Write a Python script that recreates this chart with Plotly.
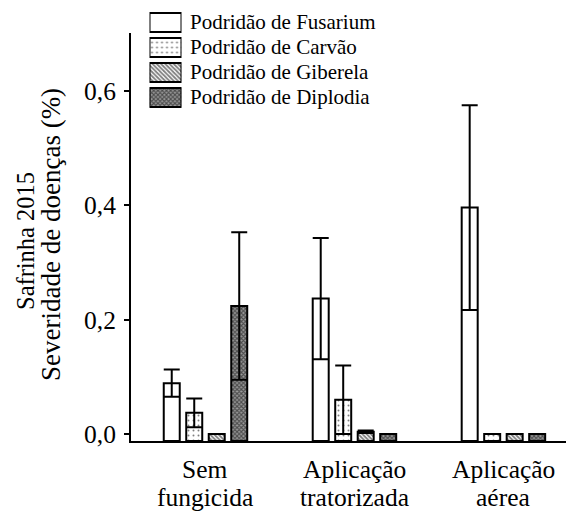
import plotly.graph_objects as go

# ---------------- data ----------------
categories = ["Sem fungicida", "Aplicação tratorizada", "Aplicação aérea"]
cat_line1 = ["Sem", "Aplicação", "Aplicação"]
cat_line2 = ["fungicida", "tratorizada", "aérea"]
series = ["Podridão de Fusarium", "Podridão de Carvão",
          "Podridão de Giberela", "Podridão de Diplodia"]
fusarium = [0.089, 0.237, 0.396]
fusarium_sd = [0.024, 0.106, 0.179]
carvao = [0.037, 0.060, 0.0]
carvao_sd = [0.025, 0.060, None]
giberela = [0.0, 0.004, 0.0]
giberela_sd = [None, 0.002, None]
diplodia = [0.224, 0.0, 0.0]
diplodia_sd = [0.129, None, None]
y_ticks = [0.0, 0.2, 0.4, 0.6]
y_title_lines = ["Safrinha 2015", "Severidade de doenças (%)"]

# ---------------- styles ----------------
FONT = "Liberation Serif"
Y_MIN, Y_MAX = -0.0122, 0.7014
patterns = [
    dict(shape="", size=8, solidity=0.3, fgcolor="black", bgcolor="white"),
    dict(shape=".", size=5, solidity=0.12, fgcolor="black", bgcolor="white"),
    dict(shape="\\", size=3, solidity=0.6, fgcolor="black", bgcolor="white"),
    dict(shape="x", size=3, solidity=0.6, fgcolor="black", bgcolor="#9a9a9a"),
]

W, H = 566, 512
ML, MR, MT, MB = 131, 0, 0, 71
plot_h = H - MT - MB
main_top_px = 33

fig = go.Figure()

values = [fusarium, carvao, giberela, diplodia]
sds = [fusarium_sd, carvao_sd, giberela_sd, diplodia_sd]
for name, vals, sd, pat in zip(series, values, sds, patterns):
    fig.add_trace(go.Bar(
        x=categories,
        y=[v - Y_MIN for v in vals],
        base=Y_MIN,
        name=name,
        showlegend=False,
        marker=dict(color="white", line=dict(color="black", width=2), pattern=pat),
        error_y=dict(type="data", array=sd, visible=True, color="black",
                     thickness=2, width=8),
        xaxis="x", yaxis="y",
    ))

# custom legend drawn as boxes on a small auxiliary axis
fig.add_trace(go.Bar(
    y=series,
    x=[1] * len(series),
    base=0,
    orientation="h",
    width=0.76,
    showlegend=False,
    hoverinfo="skip",
    marker=dict(
        color="white",
        line=dict(color="black", width=2),
        pattern=dict(
            shape=[p["shape"] for p in patterns],
            size=[p["size"] for p in patterns],
            solidity=[p["solidity"] for p in patterns],
            fgcolor=[p["fgcolor"] for p in patterns],
            bgcolor=[p["bgcolor"] for p in patterns],
        ),
    ),
    xaxis="x2", yaxis="y2",
))

annotations = []
for name in series:
    annotations.append(dict(
        x=1, y=name, xref="x2", yref="y2", text=name, showarrow=False,
        xanchor="left", yanchor="middle", xshift=6,
        font=dict(family=FONT, size=21, color="black"),
    ))
for c, l1, l2 in zip(categories, cat_line1, cat_line2):
    annotations.append(dict(
        x=c, y=0, xref="x", yref="paper", text=l1, showarrow=False,
        xanchor="center", yanchor="top", yshift=-12,
        font=dict(family=FONT, size=25.5, color="black"),
    ))
    annotations.append(dict(
        x=c, y=0, xref="x", yref="paper", text=l2, showarrow=False,
        xanchor="center", yanchor="top", yshift=-40,
        font=dict(family=FONT, size=25.5, color="black"),
    ))
annotations.append(dict(
    x=0, y=(plot_h - 241) / plot_h, xref="paper", yref="paper",
    text=y_title_lines[0], textangle=-90, showarrow=False,
    xanchor="center", yanchor="middle", xshift=-106,
    font=dict(family=FONT, size=24.5, color="black"),
))
annotations.append(dict(
    x=0, y=(plot_h - 235) / plot_h, xref="paper", yref="paper",
    text=y_title_lines[1], textangle=-90, showarrow=False,
    xanchor="center", yanchor="middle", xshift=-80,
    font=dict(family=FONT, size=27, color="black"),
))

plot_w = W - ML - MR
leg_x0 = (149.5 - ML) / plot_w
leg_x1 = (181.5 - ML) / plot_w
leg_y0 = (plot_h - 110) / plot_h
leg_y1 = (plot_h - 10) / plot_h

fig.update_layout(
    width=W, height=H,
    margin=dict(l=ML, r=MR, t=MT, b=MB, pad=0),
    paper_bgcolor="white", plot_bgcolor="white",
    separators=", ",
    barmode="group", bargap=0.396, bargroupgap=0.289,
    font=dict(family=FONT, color="black"),
    annotations=annotations,
    xaxis=dict(
        domain=[0, 1], range=[-0.5, 2.42], showticklabels=False, ticks="",
        showline=True, linecolor="black", linewidth=2, showgrid=False,
        zeroline=False, anchor="y",
    ),
    yaxis=dict(
        domain=[0, (plot_h - main_top_px) / plot_h],
        range=[Y_MIN, Y_MAX], tickvals=y_ticks, tickformat=".1f",
        ticks="outside", ticklen=5, tickwidth=2, tickcolor="black",
        ticklabelstandoff=3,
        tickfont=dict(family=FONT, size=25.5, color="black"),
        showline=True, linecolor="black", linewidth=2, showgrid=False,
        zeroline=False, anchor="x",
    ),
    xaxis2=dict(domain=[leg_x0, leg_x1], range=[0, 1], visible=False,
                anchor="y2", fixedrange=True),
    yaxis2=dict(domain=[leg_y0, leg_y1], range=[3.5, -0.5], type="category",
                categoryorder="array", categoryarray=series,
                visible=False, anchor="x2", fixedrange=True),
)

fig.write_html("out.html", config={"displayModeBar": False},
               post_script="document.body.style.margin='0';")
